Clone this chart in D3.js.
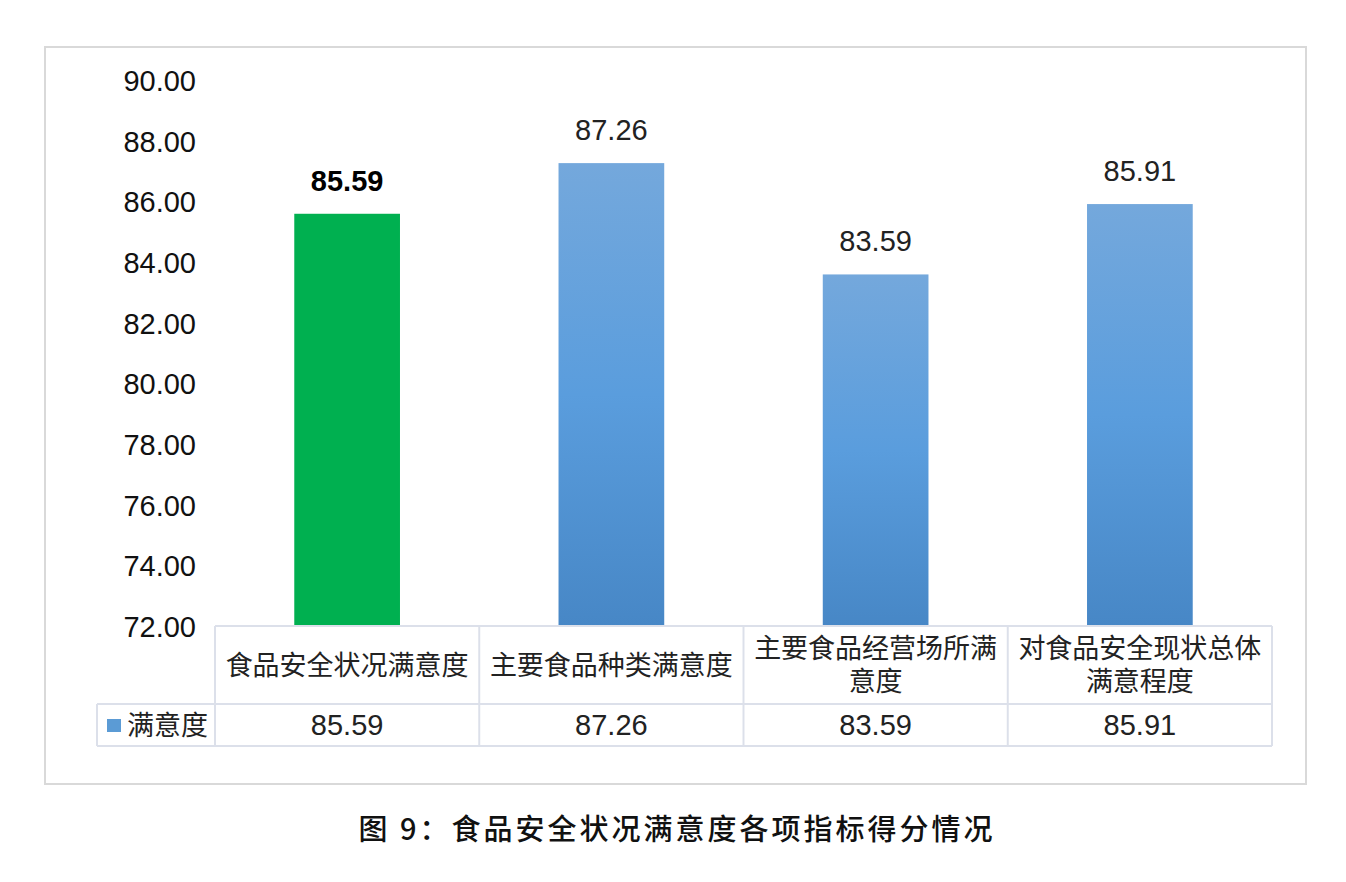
<!DOCTYPE html>
<html>
<head>
<meta charset="utf-8">
<script src="https://cdn.jsdelivr.net/npm/d3@7/dist/d3.min.js"></script>
<style>
  html, body { margin: 0; padding: 0; background: #fff; }
  svg { display: block; }
  .num { font-family: "Liberation Sans", Arial, Helvetica, sans-serif; }
  .cjk { font-family: "Noto Sans CJK SC", "Noto Sans", sans-serif; }
</style>
</head>
<body>
<svg id="chart" width="1346" height="882"></svg>
<script>
// Satisfaction scores for each food-safety indicator
const categories = ["食品安全状况满意度", "主要食品种类满意度", "主要食品经营场所满意度", "对食品安全现状总体满意程度"];
const scores = [85.59, 87.26, 83.59, 85.91];
const seriesName = "满意度";
const yTicks = [72, 74, 76, 78, 80, 82, 84, 86, 88, 90];
const highlightIndex = 0;
const caption = "图  9：食品安全状况满意度各项指标得分情况";

const svg = d3.select("#chart");

// gradient for the regular bars
const defs = svg.append("defs");
const grad = defs.append("linearGradient")
  .attr("id", "barBlue").attr("x1", 0).attr("y1", 0).attr("x2", 0).attr("y2", 1);
grad.append("stop").attr("offset", "0%").attr("stop-color", "#74a8dc");
grad.append("stop").attr("offset", "50%").attr("stop-color", "#5a9ddd");
grad.append("stop").attr("offset", "100%").attr("stop-color", "#4787c6");

// outer chart frame
svg.append("rect")
  .attr("x", 45).attr("y", 47).attr("width", 1261).attr("height", 737)
  .attr("fill", "#fff").attr("stroke", "#d9d9d9").attr("stroke-width", 2);

const plotLeft = 215, plotRight = 1272, plotTop = 80, plotBottom = 626;

const y = d3.scaleLinear().domain([72, 90]).range([plotBottom, plotTop]);
const xCol = d3.scaleBand().domain(categories).range([plotLeft, plotRight]).padding(0);
const xBar = d3.scaleBand().domain(categories).range([plotLeft, plotRight])
  .paddingInner(0.6).paddingOuter(0.3);

// y axis labels (no axis line, no ticks)
const yAxis = d3.axisLeft(y).tickValues(yTicks).tickFormat(d3.format(".2f")).tickSize(0).tickPadding(0);
const yG = svg.append("g").attr("transform", `translate(${196},0)`).call(yAxis);
yG.select(".domain").remove();
yG.selectAll("text")
  .attr("class", "num")
  .attr("font-size", 29)
  .attr("fill", "#111")
  .attr("dy", "0.36em");

// bars
svg.append("g").selectAll("rect")
  .data(scores)
  .join("rect")
  .attr("x", (d, i) => xBar(categories[i]))
  .attr("y", d => y(d))
  .attr("width", xBar.bandwidth())
  .attr("height", d => y(72) - y(d))
  .attr("fill", (d, i) => i === highlightIndex ? "#00b050" : "url(#barBlue)");

// value labels above bars
svg.append("g").selectAll("text")
  .data(scores)
  .join("text")
  .attr("class", "num")
  .attr("x", (d, i) => xBar(categories[i]) + xBar.bandwidth() / 2)
  .attr("y", d => y(d) - 23)
  .attr("text-anchor", "middle")
  .attr("font-size", 29)
  .attr("font-weight", (d, i) => i === highlightIndex ? "bold" : "normal")
  .attr("fill", (d, i) => i === highlightIndex ? "#000" : "#222")
  .text(d => d.toFixed(2));

// data table under the plot
const row1Top = 626, row1Bottom = 704, row2Bottom = 746, legendLeft = 97;
const gridColor = "#dce0ea";
const table = svg.append("g").attr("stroke", gridColor).attr("stroke-width", 2).attr("fill", "none");

table.append("line").attr("x1", plotLeft).attr("x2", plotRight).attr("y1", row1Top).attr("y2", row1Top);
table.append("line").attr("x1", legendLeft).attr("x2", plotRight).attr("y1", row1Bottom).attr("y2", row1Bottom);
table.append("line").attr("x1", legendLeft).attr("x2", plotRight).attr("y1", row2Bottom).attr("y2", row2Bottom);
table.append("line").attr("x1", legendLeft).attr("x2", legendLeft).attr("y1", row1Bottom).attr("y2", row2Bottom);
categories.forEach(c => {
  table.append("line").attr("x1", xCol(c)).attr("x2", xCol(c)).attr("y1", row1Top).attr("y2", row2Bottom);
});
table.append("line").attr("x1", plotRight).attr("x2", plotRight).attr("y1", row1Top).attr("y2", row2Bottom);

// category names, wrapped at nine characters per line
const lineH = 33;
categories.forEach(c => {
  const lines = [];
  for (let i = 0; i < c.length; i += 9) lines.push(c.slice(i, i + 9));
  const cx = xCol(c) + xCol.bandwidth() / 2;
  const midY = (row1Top + row1Bottom) / 2;
  const startY = midY - (lines.length - 1) * lineH / 2;
  const t = svg.append("text")
    .attr("class", "cjk")
    .attr("text-anchor", "middle")
    .attr("font-size", 27)
    .attr("fill", "#222");
  lines.forEach((ln, k) => {
    t.append("tspan").attr("x", cx).attr("y", startY + k * lineH).attr("dy", "0.36em").text(ln);
  });
});

// series row: legend key and values
svg.append("rect")
  .attr("x", 107).attr("y", 719).attr("width", 14).attr("height", 13)
  .attr("fill", "#5b9bd5");
svg.append("text")
  .attr("class", "cjk")
  .attr("x", 127).attr("y", (row1Bottom + row2Bottom) / 2).attr("dy", "0.36em")
  .attr("font-size", 27).attr("fill", "#222")
  .text(seriesName);
svg.append("g").selectAll("text")
  .data(scores)
  .join("text")
  .attr("class", "num")
  .attr("x", (d, i) => xCol(categories[i]) + xCol.bandwidth() / 2)
  .attr("y", (row1Bottom + row2Bottom) / 2)
  .attr("dy", "0.36em")
  .attr("text-anchor", "middle")
  .attr("font-size", 29)
  .attr("fill", "#222")
  .text(d => d.toFixed(2));

// figure caption
svg.append("text")
  .attr("class", "cjk")
  .attr("x", 677).attr("y", 830).attr("dy", "0.36em")
  .attr("text-anchor", "middle")
  .attr("font-size", 29)
  .attr("font-weight", 500)
  .attr("letter-spacing", 3)
  .attr("fill", "#111")
  .text(caption);
</script>
</body>
</html>
